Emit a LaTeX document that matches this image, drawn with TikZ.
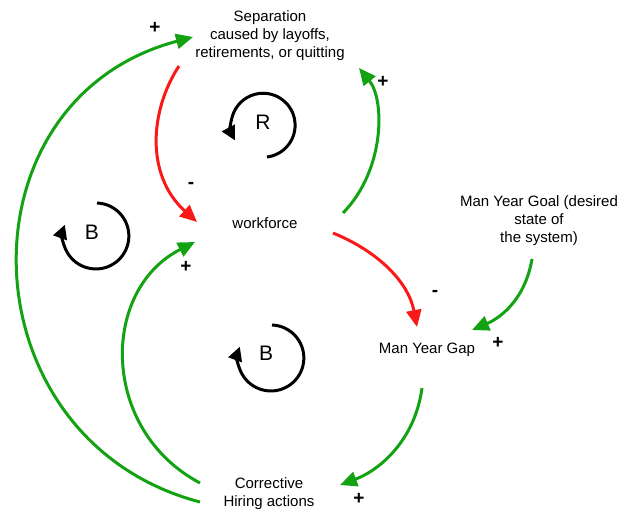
\documentclass[tikz,border=0pt]{standalone}
\usepackage{fontspec}
\setmainfont{Liberation Sans}
\usetikzlibrary{arrows.meta,calc}
\definecolor{posgreen}{RGB}{18,162,18}
\definecolor{negred}{RGB}{250,24,24}
\begin{document}
\begin{tikzpicture}[x=1pt,y=-1pt,
  var/.style={align=center,font=\fontsize{15}{18}\selectfont,inner sep=0pt},
  link/.style={line width=3pt,-{Triangle[length=17pt,width=15pt]}},
  poslink/.style={link,draw=posgreen},
  neglink/.style={link,draw=negred},
  sign/.style={font=\fontsize{19}{19}\selectfont\bfseries,inner sep=0pt},
  loopname/.style={font=\fontsize{21}{21}\selectfont,inner sep=0pt},
  looparc/.style={line width=3pt,-{Triangle[length=14pt,width=14pt]}}
]
\useasboundingbox (0,0) rectangle (620,511);

% variables
\node[var] (sep)  at (270,36)  {Separation\\caused by layoffs,\\retirements, or quitting};
\node[var] (wf)   at (265,223) {workforce};
\node[var] (goal) at (539,221) {Man Year Goal (desired\\state of\\the system)};
\node[var] (gap)  at (427,350) {Man Year Gap};
\node[var] (corr) at (269,494) {Corrective\\Hiring actions};

% causal links
\draw[neglink] ($(sep)+(-91,30)$) .. controls (150,110) and (145,175) .. ($(wf)+(-68,-1)$);
\draw[poslink] ($(wf)+(78,-10)$) .. controls (385,170) and (385,100) .. ($(sep)+(89,32)$);
\draw[poslink] ($(corr)+(-69,8)$) .. controls (-36,440) and (-46,100) .. ($(sep)+(-77,1)$);
\draw[poslink] ($(corr)+(-69,-11)$) .. controls (100,430) and (100,290) .. ($(wf)+(-70,19)$);
\draw[neglink] ($(wf)+(68,10)$) .. controls (375,250) and (408,280) .. ($(gap)+(-10,-23)$);
\draw[poslink] ($(goal)+(-7,38)$) .. controls (525,300) and (500,318) .. ($(gap)+(45,-20)$);
\draw[poslink] ($(gap)+(-5,38)$) .. controls (415,440) and (380,470) .. ($(corr)+(71,-9)$);

% polarity signs
\node[sign] (s1) at (155,28)  {+};
\node[sign] (s2) at (383,82)  {+};
\node[sign] (s3) at (191,185) {-};
\node[sign] (s4) at (186,267) {+};
\node[sign] (s5) at (435,293) {-};
\node[sign] (s6) at (498,343) {+};
\node[sign] (s7) at (359,499) {+};

% loop markers
\node[loopname] (lR)  at (263,122) {R};
\node[loopname] (lB1) at (92,232)  {B};
\node[loopname] (lB2) at (266,353) {B};
\draw[looparc] ($(lR)+(4,35)$) arc[start angle=83, end angle=-208, radius=32];
\draw[looparc] ($(lB1)+(5,-29)$) arc[start angle=-88, end angle=200, radius=33];
\draw[looparc] ($(lB2)+(6,-28)$) arc[start angle=-88, end angle=200, radius=33];
\end{tikzpicture}
\end{document}
